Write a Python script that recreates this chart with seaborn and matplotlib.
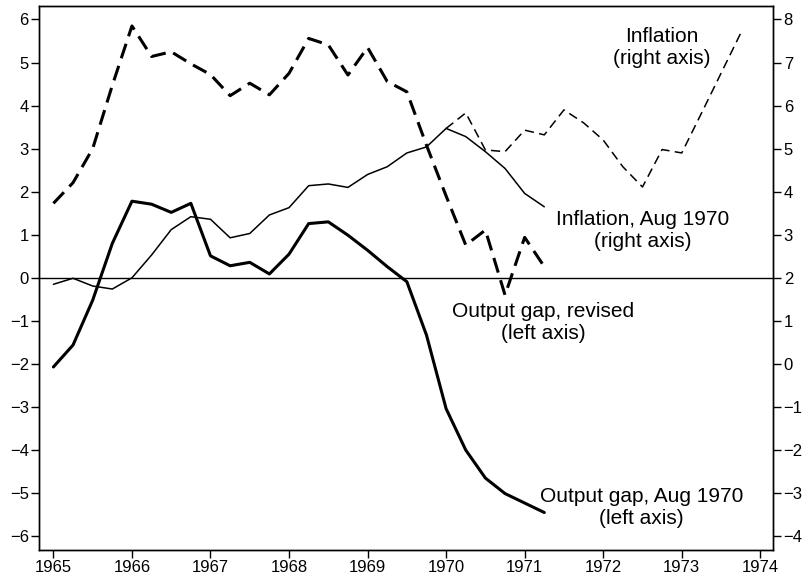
import numpy as np
import pandas as pd
import matplotlib
matplotlib.use("Agg")
import matplotlib.pyplot as plt
import seaborn as sns

# Quarterly dates
quarters_main = [1965.0 + 0.25 * i for i in range(26)]          # 1965Q1 .. 1971Q2
quarters_infl = [1970.0 + 0.25 * i for i in range(16)]          # 1970Q1 .. 1973Q4

output_gap_revised = [1.73, 2.21, 3.00, 4.47, 5.85, 5.14, 5.25, 4.97, 4.72, 4.23,
                      4.52, 4.25, 4.75, 5.56, 5.41, 4.71, 5.35, 4.56, 4.32, 3.08,
                      1.90, 0.76, 1.11, -0.40, 0.94, 0.26]
output_gap_aug1970 = [-2.07, -1.56, -0.52, 0.80, 1.78, 1.71, 1.52, 1.73, 0.51, 0.28,
                      0.36, 0.09, 0.55, 1.26, 1.30, 0.99, 0.64, 0.26, -0.09, -1.33,
                      -3.04, -4.00, -4.65, -5.01, -5.23, -5.45]
# right-axis values (percent)
inflation_aug1970 = [1.85, 1.99, 1.81, 1.74, 2.00, 2.53, 3.12, 3.42, 3.36, 2.93,
                     3.03, 3.46, 3.63, 4.14, 4.18, 4.10, 4.40, 4.58, 4.90, 5.04,
                     5.47, 5.28, 4.93, 4.54, 3.96, 3.65]
inflation = [5.47, 5.83, 4.97, 4.93, 5.43, 5.32, 5.90, 5.60, 5.20, 4.58,
             4.11, 4.98, 4.90, 5.82, 6.75, 7.68]

left_ticks = list(range(-6, 7))
right_ticks = list(range(-4, 9))
year_ticks = list(range(1965, 1975))

df_left = pd.concat([
    pd.DataFrame({"date": quarters_main, "value": output_gap_revised, "series": "gap_rev"}),
    pd.DataFrame({"date": quarters_main, "value": output_gap_aug1970, "series": "gap_aug"}),
])
df_right = pd.concat([
    pd.DataFrame({"date": quarters_main, "value": inflation_aug1970, "series": "infl_aug"}),
    pd.DataFrame({"date": quarters_infl, "value": inflation, "series": "infl"}),
])

sns.set_style("ticks")
plt.rcParams['font.family'] = ['Liberation Sans', 'DejaVu Sans']
plt.rcParams['axes.unicode_minus'] = True

fig = plt.figure(figsize=(8.08, 5.81), dpi=100)
ax = fig.add_axes([0.0486, 0.0534, 0.9084, 0.9368])
ax2 = ax.twinx()

ax.axhline(0, color="black", lw=1.0, zorder=1)

sns.lineplot(data=df_left, x="date", y="value", hue="series", style="series",
             palette={"gap_rev": "black", "gap_aug": "black"},
             dashes={"gap_rev": (5, 2.6), "gap_aug": ""},
             linewidth=2.2, legend=False, ax=ax, estimator=None, sort=False)
sns.lineplot(data=df_right, x="date", y="value", hue="series", style="series",
             palette={"infl_aug": "black", "infl": "black"},
             dashes={"infl_aug": "", "infl": (6, 3.5)},
             linewidth=1.1, legend=False, ax=ax2, estimator=None, sort=False)

xmin, xmax = 1964.82, 1974.165
ax.set_xlim(xmin, xmax)
ax.set_ylim(-6.32, 6.32)
ax2.set_ylim(-4.32, 8.32)
ax.set_xticks(year_ticks)
ax.set_yticks(left_ticks)
ax2.set_yticks(right_ticks)
ax.set_xlabel("")
ax.set_ylabel("")
ax2.set_ylabel("")

for a in (ax, ax2):
    for s in a.spines.values():
        s.set_visible(True)
        s.set_color("black")
        s.set_linewidth(1.0)
    a.tick_params(axis="both", direction="out", length=5.5, width=1.0,
                  labelsize=12, colors="black", pad=2)

lbl = dict(fontsize=15, ha="center", va="center", linespacing=1.2, color="black")
ax.text(1972.75, 5.35, "Inflation\n(right axis)", **lbl)
ax.text(1972.5, 1.11, "Inflation, Aug 1970\n(right axis)", **lbl)
ax.text(1971.24, -1.03, "Output gap, revised\n(left axis)", **lbl)
ax.text(1972.49, -5.34, "Output gap, Aug 1970\n(left axis)", **lbl)

fig.savefig("out.png", dpi=100)
